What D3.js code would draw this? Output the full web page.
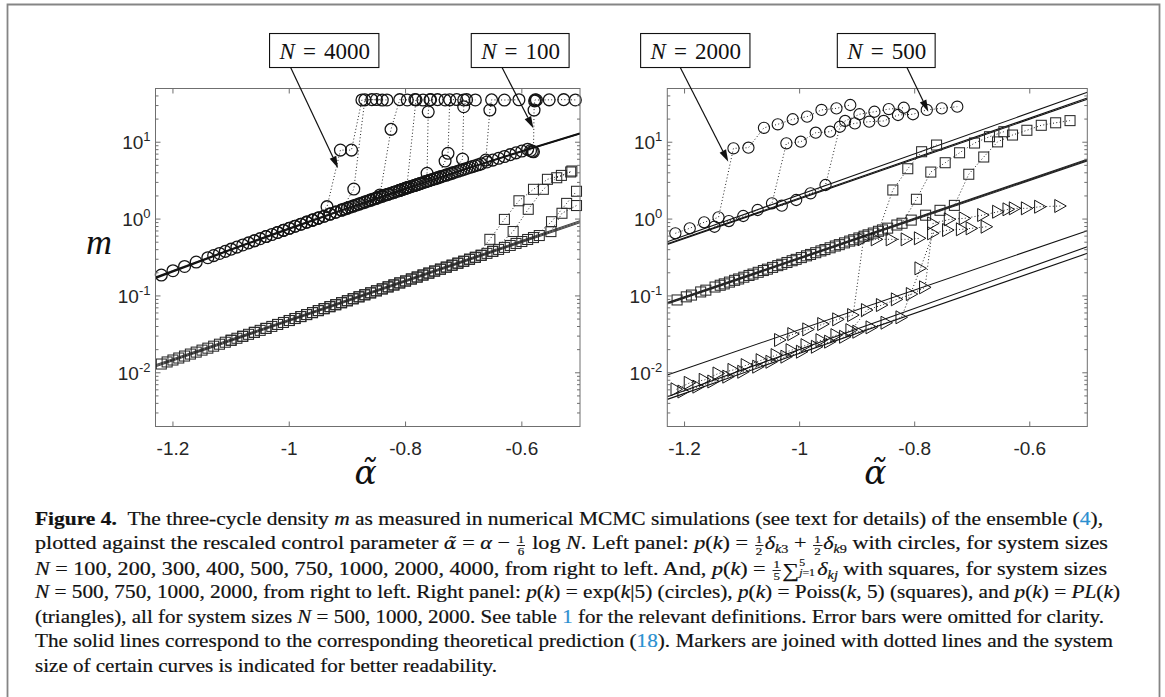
<!DOCTYPE html>
<html><head><meta charset="utf-8">
<script src="https://cdn.jsdelivr.net/npm/d3@7"></script>
<style>
body{margin:0;background:#fff;width:1165px;height:697px;overflow:hidden;position:relative;}
svg{position:absolute;left:0;top:0}
.cap{position:absolute;left:35px;white-space:nowrap;font-family:"Liberation Serif",serif;font-size:18.8px;color:#111;-webkit-text-stroke:0.2px #111;transform-origin:0 0;line-height:18.8px}
.ref{color:#2a8fd0;-webkit-text-stroke:0.2px #2a8fd0}
.frac{display:inline-flex;flex-direction:column;font-size:11px;line-height:11px;text-align:center;position:relative;top:-6.5px;margin:0 1px}
.frac span:first-child{border-bottom:0.8px solid #231f20;padding:0 1px}
.lim{display:inline-flex;flex-direction:column;font-size:10px;line-height:10px;position:relative;top:-9px;margin-right:2px}
.sub{font-size:12px;position:relative;top:4px}
.sum{font-size:20px;position:relative;top:2px}
.at{font-family:"DejaVu Serif",serif;font-style:italic;font-size:16px}
</style></head><body>
<script>
// ---------------- axes -----------------
const xDomain = [-1.23, -0.5];
const yDomain = [0.002, 50];
const xTicks = [-1.2, -1, -0.8, -0.6];
const xTickLabels = ["-1.2", "-1", "-0.8", "-0.6"];
const yTicks = [0.01, 0.1, 1, 10];
const yTickExps = ["-2", "-1", "0", "1"];

// ---------------- left panel: circles  p(k)=1/2 d_k3 + 1/2 d_k9 -----------------
const leftCirclesN4000 = [[-1.22,0.187],[-1.20,0.213],[-1.18,0.242],[-1.16,0.276],[-1.14,0.314],[-1.12,0.357],[-1.10,0.406],[-1.08,0.460],[-1.06,0.522],[-1.04,0.592],[-1.02,0.670],[-1.00,0.759],[-0.98,0.858],[-0.96,0.969],[-0.935,1.45],[-0.912,7.9],[-0.893,7.9],[-0.875,35.5],[-0.858,35.8],[-0.84,35.4]];
const leftCirclesN2000 = [[-1.13,0.335],[-1.11,0.380],[-1.09,0.432],[-1.07,0.490],[-1.05,0.556],[-1.03,0.630],[-1.01,0.713],[-0.99,0.807],[-0.97,0.912],[-0.95,1.030],[-0.93,1.163],[-0.91,1.311],[-0.889,2.46],[-0.87,35.6],[-0.85,35.9],[-0.832,35.5]];
const leftCirclesN1000 = [[-1.06,0.522],[-1.04,0.592],[-1.02,0.670],[-1.00,0.759],[-0.98,0.858],[-0.96,0.969],[-0.94,1.09],[-0.92,1.23],[-0.90,1.39],[-0.88,1.57],[-0.86,1.77],[-0.844,2.06],[-0.825,14.7],[-0.81,35.8],[-0.797,35.5],[-0.784,35.9]];
const leftCirclesN750 = [[-1.01,0.713],[-0.99,0.807],[-0.97,0.912],[-0.95,1.030],[-0.93,1.163],[-0.91,1.311],[-0.89,1.478],[-0.87,1.664],[-0.85,1.873],[-0.83,2.106],[-0.81,2.366],[-0.798,2.55],[-0.782,35.6],[-0.77,35.4],[-0.757,35.8]];
const leftCirclesN500 = [[-0.96,0.969],[-0.95,1.030],[-0.94,1.09],[-0.93,1.163],[-0.92,1.23],[-0.91,1.311],[-0.90,1.39],[-0.89,1.478],[-0.88,1.57],[-0.87,1.664],[-0.86,1.77],[-0.85,1.873],[-0.84,1.99],[-0.83,2.106],[-0.82,2.23],[-0.81,2.366],[-0.80,2.51],[-0.79,2.657],[-0.78,2.81],[-0.763,3.94],[-0.761,24.9],[-0.758,35.6],[-0.745,35.8],[-0.732,35.5]];
const leftCirclesN400 = [[-0.905,1.35],[-0.895,1.433],[-0.885,1.523],[-0.875,1.616],[-0.865,1.716],[-0.855,1.82],[-0.845,1.931],[-0.835,2.047],[-0.825,2.167],[-0.815,2.297],[-0.805,2.437],[-0.795,2.582],[-0.785,2.733],[-0.775,2.894],[-0.765,3.07],[-0.755,3.25],[-0.745,3.44],[-0.732,5.69],[-0.727,7.17],[-0.724,35.6],[-0.712,35.9],[-0.70,35.5]];
const leftCirclesN300 = [[-0.86,1.77],[-0.85,1.873],[-0.84,1.99],[-0.83,2.106],[-0.82,2.23],[-0.81,2.366],[-0.80,2.51],[-0.79,2.657],[-0.78,2.81],[-0.77,2.98],[-0.76,3.16],[-0.75,3.34],[-0.74,3.54],[-0.73,3.741],[-0.72,3.96],[-0.702,6.04],[-0.70,29.0],[-0.695,35.8],[-0.68,35.5]];
const leftCirclesN200 = [[-0.805,2.437],[-0.795,2.582],[-0.785,2.733],[-0.775,2.894],[-0.765,3.07],[-0.755,3.25],[-0.745,3.44],[-0.735,3.64],[-0.725,3.85],[-0.715,4.07],[-0.705,4.31],[-0.695,4.56],[-0.685,4.82],[-0.675,5.09],[-0.662,5.86],[-0.655,26.2],[-0.652,35.6],[-0.63,35.4],[-0.605,35.7]];
const leftCirclesN100 = [[-0.76,3.16],[-0.75,3.34],[-0.74,3.54],[-0.73,3.74],[-0.72,3.96],[-0.71,4.19],[-0.70,4.43],[-0.69,4.69],[-0.68,4.95],[-0.67,5.23],[-0.66,5.53],[-0.65,5.85],[-0.64,6.18],[-0.63,6.52],[-0.62,6.89],[-0.61,7.27],[-0.60,7.68],[-0.59,8.10],[-0.585,7.8],[-0.582,7.6],[-0.58,7.5],[-0.579,26.2],[-0.578,34.5],[-0.577,35.6],[-0.575,35.4],[-0.553,35.6],[-0.528,35.8],[-0.508,35.5]];

// ---------------- left panel: squares  p(k)=1/5 sum d_kj -----------------
const leftSquaresN2000 = [[-1.22,0.0130],[-1.20,0.01466],[-1.18,0.01651],[-1.16,0.01858],[-1.14,0.02091],[-1.12,0.02354],[-1.10,0.02649],[-1.08,0.02983],[-1.06,0.03357],[-1.04,0.03779],[-1.02,0.04253],[-1.00,0.04787],[-0.98,0.05389],[-0.96,0.06066],[-0.94,0.06828],[-0.92,0.07686],[-0.90,0.08651],[-0.88,0.09738],[-0.86,0.1096],[-0.84,0.1234],[-0.82,0.1389],[-0.80,0.1563],[-0.78,0.1760],[-0.76,0.1981],[-0.74,0.2230],[-0.72,0.2510],[-0.70,0.2825],[-0.68,0.3180],[-0.655,0.545],[-0.630,0.99],[-0.605,1.73],[-0.580,2.44],[-0.556,3.29],[-0.532,3.7],[-0.514,4.22]];
const leftSquaresN1000 = [[-1.21,0.01383],[-1.19,0.01556],[-1.17,0.01752],[-1.15,0.01972],[-1.13,0.02219],[-1.11,0.02498],[-1.09,0.02812],[-1.07,0.03166],[-1.05,0.03564],[-1.03,0.04011],[-1.01,0.04516],[-0.99,0.05083],[-0.97,0.05722],[-0.95,0.06442],[-0.93,0.07251],[-0.91,0.08163],[-0.89,0.09188],[-0.87,0.1035],[-0.85,0.1165],[-0.83,0.1311],[-0.81,0.1476],[-0.79,0.1661],[-0.77,0.1870],[-0.75,0.2105],[-0.73,0.2369],[-0.71,0.2667],[-0.69,0.3002],[-0.67,0.3379],[-0.65,0.3803],[-0.615,0.689],[-0.589,1.34],[-0.563,2.44],[-0.540,3.45],[-0.516,4.1]];
const leftSquaresN750 = [[-1.10,0.02649],[-1.08,0.02983],[-1.06,0.03357],[-1.04,0.03779],[-1.02,0.04253],[-1.00,0.04787],[-0.98,0.05389],[-0.96,0.06066],[-0.94,0.06828],[-0.92,0.07686],[-0.90,0.08651],[-0.88,0.09738],[-0.86,0.1096],[-0.84,0.1234],[-0.82,0.1389],[-0.80,0.1563],[-0.78,0.1760],[-0.76,0.1981],[-0.74,0.2230],[-0.72,0.2510],[-0.70,0.2825],[-0.68,0.3180],[-0.66,0.3580],[-0.64,0.4030],[-0.62,0.4536],[-0.60,0.5106],[-0.58,0.5748],[-0.549,0.924],[-0.523,1.60],[-0.506,2.3]];
const leftSquaresN500 = [[-0.99,0.05083],[-0.97,0.05722],[-0.95,0.06442],[-0.93,0.07251],[-0.91,0.08163],[-0.89,0.09188],[-0.87,0.1035],[-0.85,0.1165],[-0.83,0.1311],[-0.81,0.1476],[-0.79,0.1661],[-0.77,0.1870],[-0.75,0.2105],[-0.73,0.2369],[-0.71,0.2667],[-0.69,0.3002],[-0.67,0.3379],[-0.65,0.3803],[-0.63,0.4281],[-0.61,0.4819],[-0.59,0.5424],[-0.57,0.6106],[-0.55,0.6873],[-0.531,1.19],[-0.506,1.5]];

// theory (solid lines), left panel
const leftTheoryCircles = [
  [[-1.23,0.1746],[-1.10,0.4055],[-1.00,0.7586],[-0.90,1.3925],[-0.80,2.506],[-0.70,4.429],[-0.60,7.678],[-0.50,13.06]],
  [[-1.23,0.170],[-1.10,0.398],[-1.00,0.745],[-0.90,1.37],[-0.80,2.47],[-0.70,4.37],[-0.60,7.58],[-0.50,12.9]]
];
const leftTheorySquares = [
  [[-1.23,0.01236],[-0.50,0.9247]],
  [[-1.23,0.0120],[-0.50,0.897]],
  [[-1.23,0.0127],[-0.50,0.952]]
];

// ---------------- right panel: circles exp(k|5) -----------------
const rightCirclesN2000 = [[-1.216,0.653],[-1.191,0.759],[-1.166,0.908],[-1.141,1.054],[-1.115,8.33],[-1.089,8.48],[-1.062,15.4],[-1.038,17.1],[-1.012,19.9],[-0.987,21.5],[-0.962,26.3],[-0.936,27.6],[-0.912,30.5]];
const rightCirclesN1000 = [[-1.148,0.795],[-1.123,0.943],[-1.098,1.097],[-1.073,1.313],[-1.048,1.604],[-1.023,9.68],[-0.998,10.15],[-0.972,13.3],[-0.947,13.7],[-0.921,18.9],[-0.896,23.1],[-0.870,24.9],[-0.845,27.0],[-0.819,28.1]];
const rightCirclesN500 = [[-1.031,1.493],[-1.006,1.771],[-0.981,2.164],[-0.955,2.774],[-0.930,15.9],[-0.904,17.6],[-0.879,18.5],[-0.854,18.9],[-0.829,22.6],[-0.803,23.1],[-0.779,26.3],[-0.753,27.6],[-0.726,29.0]];
// right panel: squares Poiss(k,5)
const rightSquaresN2000 = [[-1.213,0.0886],[-1.188,0.1026],[-1.163,0.1189],[-1.138,0.1377],[-1.113,0.1595],[-1.088,0.1847],[-1.063,0.2140],[-1.038,0.2478],[-1.013,0.2871],[-0.988,0.3324],[-0.963,0.3851],[-0.938,0.4461],[-0.913,0.5167],[-0.888,0.5985],[-0.863,0.6934],[-0.838,2.39],[-0.812,4.52],[-0.788,7.52],[-0.762,9.19]];
const rightSquaresN1000 = [[-1.197,0.0973],[-1.172,0.1127],[-1.147,0.1306],[-1.122,0.1513],[-1.097,0.1752],[-1.072,0.2029],[-1.047,0.2350],[-1.022,0.2723],[-0.997,0.3154],[-0.972,0.3652],[-0.947,0.4231],[-0.922,0.4901],[-0.897,0.5677],[-0.872,0.6577],[-0.847,0.7616],[-0.822,0.8823],[-0.797,1.81],[-0.772,4.09],[-0.747,5.41],[-0.722,7.29],[-0.696,9.76],[-0.670,11.8],[-0.645,13.7]];
const rightSquaresN500 = [[-1.131,0.1434],[-1.106,0.1662],[-1.081,0.1925],[-1.056,0.2229],[-1.031,0.2582],[-1.006,0.2991],[-0.981,0.3465],[-0.956,0.4013],[-0.931,0.4649],[-0.906,0.5385],[-0.881,0.6237],[-0.856,0.7226],[-0.831,0.8367],[-0.806,0.9694],[-0.781,1.123],[-0.756,1.300],[-0.731,1.507],[-0.706,3.83],[-0.680,6.42],[-0.656,10.1],[-0.630,12.4],[-0.605,14.3],[-0.580,16.6],[-0.555,17.9],[-0.530,19.1]];
// right panel: triangles PL(k)
const rightTrianglesN2000 = [[-1.034,0.0267],[-1.011,0.0319],[-0.985,0.0367],[-0.959,0.0431],[-0.933,0.0496],[-0.907,0.0564],[-0.889,0.545],[-0.866,0.545],[-0.840,0.545],[-0.814,0.545],[-0.791,0.562]];
const rightTrianglesN1000 = [[-1.214,0.0061],[-1.191,0.0074],[-1.165,0.0081],[-1.141,0.0098],[-1.115,0.0109],[-1.092,0.0126],[-1.066,0.0146],[-1.040,0.0170],[-1.014,0.0197],[-0.988,0.0229],[-0.962,0.0266],[-0.936,0.0309],[-0.910,0.0359],[-0.883,0.0655],[-0.857,0.0761],[-0.831,0.0903],[-0.805,0.1058],[-0.782,0.1294],[-0.768,0.880],[-0.739,0.992],[-0.713,1.023],[-0.681,1.129],[-0.655,1.246],[-0.637,1.339],[-0.626,1.380],[-0.605,1.380],[-0.582,1.448],[-0.547,1.479]];
const rightTrianglesN500 = [[-1.202,0.0057],[-1.176,0.0066],[-1.150,0.0077],[-1.124,0.0089],[-1.098,0.0103],[-1.072,0.0120],[-1.049,0.0139],[-1.023,0.0162],[-0.996,0.0188],[-0.970,0.0218],[-0.947,0.0254],[-0.921,0.0294],[-0.898,0.0342],[-0.875,0.0390],[-0.849,0.0448],[-0.823,0.0527],[-0.790,0.2286],[-0.768,0.653],[-0.742,0.720],[-0.718,0.736],[-0.701,0.758],[-0.675,0.795]];
// theory, right panel
const rightTheoryCircles = [[[-1.23,0.507],[-0.50,44.6]],[[-1.23,0.476],[-0.50,37.5]],[[-1.23,0.466],[-0.50,36.2]]];
const rightTheorySquares = [[[-1.23,0.0801],[-0.50,5.86]],[[-1.23,0.0785],[-0.50,5.72]],[[-1.23,0.0818],[-0.50,6.0]]];
const rightTheoryTriangles = [[[-1.23,0.00936],[-0.50,0.7056]],[[-1.23,0.00488],[-0.50,0.4367]],[[-1.23,0.00451],[-0.50,0.3583]]];

// ---------------- annotations (data coordinates) -----------------
const annLabels = ["4000", "100", "2000", "500"];
const annPanel = [0, 0, 1, 1];
const annBox = [[-0.939,156],[-0.602,156],[-1.1805,156],[-0.8486,156]];
const annTail = [[-0.998,95],[-0.6345,95],[-1.2079,95],[-0.8139,95]];
const annTip = [[-0.916,4.6],[-0.5802,15.2],[-1.124,5.58],[-0.7763,24.9]];

// ================= drawing =================
const W = 1165, H = 697;
const svg = d3.select("body").append("svg").attr("width", W).attr("height", H);

// outer frame
svg.append("path").attr("d", "M7.5,697 V4.5 H1159.5 V697").attr("fill", "none").attr("stroke", "#858585").attr("stroke-width", 1.8);

const yScale = d3.scaleLog().domain(yDomain).range([426.5, 88.5]);
const panels = [
  {x: d3.scaleLinear().domain(xDomain).range([155.5, 580]),
   circles: [leftCirclesN4000, leftCirclesN2000, leftCirclesN1000, leftCirclesN750, leftCirclesN500, leftCirclesN400, leftCirclesN300, leftCirclesN200, leftCirclesN100],
   squares: [leftSquaresN2000, leftSquaresN1000, leftSquaresN750, leftSquaresN500],
   triangles: [],
   theory: [{lines: leftTheoryCircles, w: 1.6, c: "#111"}, {lines: leftTheorySquares, w: 1.1, c: "#444"}],
   r: 5.9, cw: 1.3, ylabel: true},
  {x: d3.scaleLinear().domain(xDomain).range([667.3, 1087.3]),
   circles: [rightCirclesN2000, rightCirclesN1000, rightCirclesN500],
   squares: [rightSquaresN2000, rightSquaresN1000, rightSquaresN500],
   triangles: [rightTrianglesN2000, rightTrianglesN1000, rightTrianglesN500],
   theory: [{lines: rightTheoryCircles, w: 1.1, c: "#111"}, {lines: rightTheorySquares, w: 1.1, c: "#222"}, {lines: rightTheoryTriangles, w: 1.1, c: "#111"}],
   r: 5.6, cw: 1.1, ylabel: false}
];

const axisColor = "#6f6f6f";
const tickFont = "'Liberation Sans', Arial, sans-serif";

panels.forEach((p, pi) => {
  const x = p.x, y = yScale;
  const [x0, x1] = x.range(), [y1, y0] = y.range();
  const g = svg.append("g");
  const clipId = "clip" + pi;
  g.append("clipPath").attr("id", clipId).append("rect").attr("x", x0).attr("y", y0).attr("width", x1 - x0).attr("height", y1 - y0);

  const line = d3.line().x(d => x(d[0])).y(d => y(d[1]));
  const curve = d3.line().x(d => x(d[0])).y(d => y(d[1])).curve(d3.curveMonotoneX);

  const tg = g.append("g").attr("clip-path", `url(#${clipId})`);
  p.theory.forEach(t => t.lines.forEach(l => {
    tg.append("path").attr("d", curve(l)).attr("fill", "none").attr("stroke", t.c).attr("stroke-width", t.w);
  }));

  const dg = g.append("g").attr("clip-path", `url(#${clipId})`);
  [...p.circles, ...p.squares, ...p.triangles].forEach(s => {
    dg.append("path").attr("d", line(s)).attr("fill", "none").attr("stroke", "#222").attr("stroke-width", 1).attr("stroke-dasharray", "1 2.3");
  });

  const mg = g.append("g").attr("fill", "none").attr("stroke", "#151515");
  p.circles.forEach(s => mg.selectAll(null).data(s).enter().append("circle").attr("stroke-width", p.cw)
    .attr("cx", d => x(d[0])).attr("cy", d => y(d[1])).attr("r", p.r));
  p.squares.forEach(s => mg.selectAll(null).data(s).enter().append("rect")
    .attr("x", d => x(d[0]) - 5).attr("y", d => y(d[1]) - 5).attr("width", 10).attr("height", 10).attr("stroke", "#2a2a2a").attr("stroke-width", 1.05));
  p.triangles.forEach(s => mg.selectAll(null).data(s).enter().append("path").attr("stroke-width", 1)
    .attr("d", d => `M${x(d[0]) - 5.5},${y(d[1]) - 6.5}L${x(d[0]) - 5.5},${y(d[1]) + 6.5}L${x(d[0]) + 6},${y(d[1])}Z`));

  const ag = g.append("g").attr("stroke", axisColor).attr("fill", "none").attr("stroke-width", 1);
  ag.append("rect").attr("x", x0).attr("y", y0).attr("width", x1 - x0).attr("height", y1 - y0);
  xTicks.forEach(v => {
    ag.append("line").attr("x1", x(v)).attr("x2", x(v)).attr("y1", y1).attr("y2", y1 - 5);
    ag.append("line").attr("x1", x(v)).attr("x2", x(v)).attr("y1", y0).attr("y2", y0 + 5);
  });
  const minor = [];
  [-3, -2, -1, 0, 1].forEach(e => [2,3,4,5,6,7,8,9].forEach(k => {
    const v = k * Math.pow(10, e);
    if (v > yDomain[0] && v < yDomain[1]) minor.push(v);
  }));
  yTicks.forEach(v => {
    ag.append("line").attr("x1", x0).attr("x2", x0 + 5).attr("y1", y(v)).attr("y2", y(v));
    ag.append("line").attr("x1", x1).attr("x2", x1 - 5).attr("y1", y(v)).attr("y2", y(v));
  });
  minor.forEach(v => {
    ag.append("line").attr("x1", x0).attr("x2", x0 + 3).attr("y1", y(v)).attr("y2", y(v));
    ag.append("line").attr("x1", x1).attr("x2", x1 - 3).attr("y1", y(v)).attr("y2", y(v));
  });

  const lg = g.append("g").attr("fill", "#262626").style("font-family", tickFont);
  xTicks.forEach((v, i) => lg.append("text").attr("x", x(v)).attr("y", y1 + 28.5)
    .attr("text-anchor", "middle").style("font-size", "19px").text(xTickLabels[i]));
  yTicks.forEach((v, i) => {
    const t = lg.append("text").attr("x", x0 - 5).attr("y", y(v) + 6.8).attr("text-anchor", "end").style("font-size", "19px");
    t.append("tspan").text("10");
    t.append("tspan").attr("dy", -8).style("font-size", "13px").text(yTickExps[i]);
  });

  const cx = (x0 + x1) / 2 - 2;
  g.append("text").attr("x", cx).attr("y", 484).attr("text-anchor", "middle")
    .style("font-family", "'DejaVu Serif', serif").style("font-style", "italic").style("font-size", "33px").attr("fill", "#111").text("α\u0303");
  if (p.ylabel) {
    g.append("text").attr("x", 99).attr("y", 254).attr("text-anchor", "middle")
      .style("font-family", "'Liberation Serif', serif").style("font-style", "italic").style("font-size", "36px").attr("fill", "#111").text("m");
  }
});

// annotations
annLabels.forEach((lab, i) => {
  const x = panels[annPanel[i]].x, y = yScale;
  const g = svg.append("g");
  const tail = [x(annTail[i][0]), y(annTail[i][1])], tip = [x(annTip[i][0]), y(annTip[i][1])];
  const ang = Math.atan2(tip[1] - tail[1], tip[0] - tail[0]);
  const L = 12, Wd = 3.6;
  const bx = tip[0] - L * Math.cos(ang), by = tip[1] - L * Math.sin(ang);
  g.append("line").attr("x1", tail[0]).attr("y1", tail[1]).attr("x2", bx).attr("y2", by).attr("stroke", "#111").attr("stroke-width", 1.2);
  g.append("path").attr("d", `M${tip[0]},${tip[1]}L${bx - Wd * Math.sin(ang)},${by + Wd * Math.cos(ang)}L${bx + Wd * Math.sin(ang)},${by - Wd * Math.cos(ang)}Z`).attr("fill", "#111");
  const cx = x(annBox[i][0]), cy = y(annBox[i][1]);
  const rect = g.append("rect").attr("fill", "#fff").attr("stroke", "#111").attr("stroke-width", 1.1);
  const t = g.append("text").attr("x", cx).attr("y", cy + 8).attr("text-anchor", "middle")
    .style("font-family", "'Liberation Serif', serif").style("font-size", "23px").attr("fill", "#111");
  t.append("tspan").style("font-style", "italic").text("N");
  t.append("tspan").attr("dx", 8).text("=");
  t.append("tspan").attr("dx", 8).text(lab);
  const bb = t.node().getBBox();
  rect.attr("x", bb.x - 9).attr("y", cy - 17).attr("width", bb.width + 18).attr("height", 34);
});

// ---------------- caption -----------------
const frac = (a, b) => `<span class="frac"><span>${a}</span><span>${b}</span></span>`;
const capLines = [
  `<b>Figure 4.</b>&nbsp;&nbsp;The three-cycle density <i>m</i> as measured in numerical MCMC simulations (see text for details) of the ensemble (<span class="ref">4</span>),`,
  `plotted against the rescaled control parameter <span class="at">α\u0303</span> = <i>α</i> − ${frac(1,6)} log <i>N</i>. Left panel: <i>p</i>(<i>k</i>) = ${frac(1,2)}<i>δ</i><span class="sub"><i>k</i>3</span> + ${frac(1,2)}<i>δ</i><span class="sub"><i>k</i>9</span> with circles, for system sizes`,
  `<i>N</i> = 100, 200, 300, 400, 500, 750, 1000, 2000, 4000, from right to left. And, <i>p</i>(<i>k</i>) = ${frac(1,5)}<span class="sum">∑</span><span class="lim"><span>5</span><span><i>j</i>=1</span></span><i>δ</i><span class="sub"><i>kj</i></span> with squares, for system sizes`,
  `<i>N</i> = 500, 750, 1000, 2000, from right to left. Right panel: <i>p</i>(<i>k</i>) = exp(<i>k</i>|5) (circles), <i>p</i>(<i>k</i>) = Poiss(<i>k</i>, 5) (squares), and <i>p</i>(<i>k</i>) = <i>PL</i>(<i>k</i>)`,
  `(triangles), all for system sizes <i>N</i> = 500, 1000, 2000. See table <span class="ref">1</span> for the relevant definitions. Error bars were omitted for clarity.`,
  `The solid lines correspond to the corresponding theoretical prediction (<span class="ref">18</span>). Markers are joined with dotted lines and the system`,
  `size of certain curves is indicated for better readability.`
];
const capRight = [1103, 1108, 1107, 1120, 1104, 1113, 497];
const capBase = [525, 549.5, 574, 598.5, 623, 647.5, 672];
capLines.forEach((h, i) => {
  const d = d3.select("body").append("div").attr("class", "cap").html(h);
  d.style("top", (capBase[i] - 15.5) + "px");
  const w = d.node().getBoundingClientRect().width;
  d.style("transform", `scaleX(${(capRight[i] - 35) / w})`);
});
</script></body></html>
